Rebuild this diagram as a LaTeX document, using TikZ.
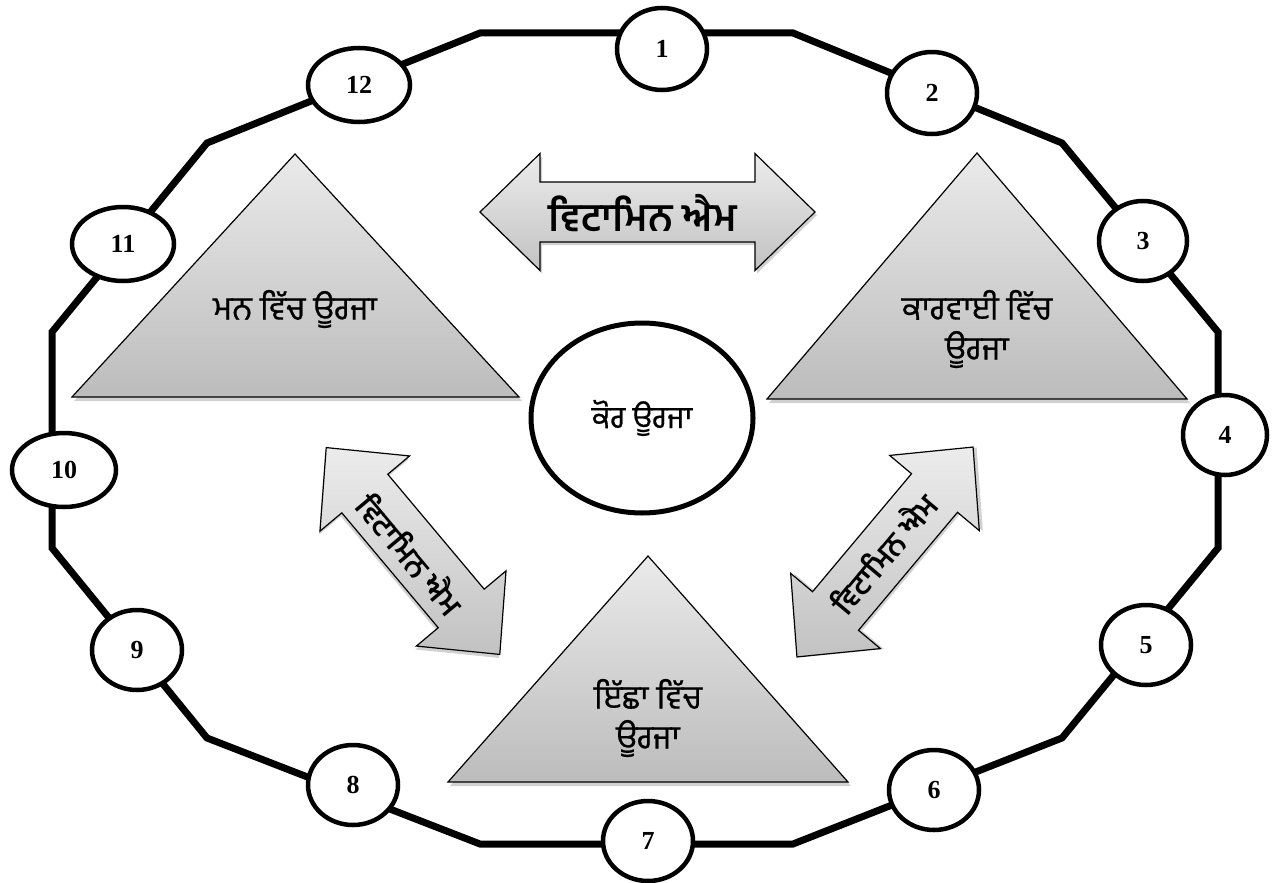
\documentclass[tikz,border=0pt]{standalone}
\usepackage{fontspec}
\usetikzlibrary{shapes.geometric}
\newfontfamily\pa[Script=Gurmukhi]{Hind Jalandhar}
\newfontfamily\pam[Script=Gurmukhi, FakeBold=0.6]{Hind Jalandhar}
\newfontfamily\numfont{Liberation Serif}
\definecolor{tritop}{RGB}{234,234,234}
\definecolor{tribot}{RGB}{188,188,188}
\definecolor{arrtop}{RGB}{236,236,236}
\definecolor{arrbot}{RGB}{194,194,194}
\begin{document}
\begin{tikzpicture}[x=1pt,y=-1pt,
  ring/.style={line width=7pt, line join=miter},
  num/.style={ellipse, draw=black, line width=4.5pt, fill=white, inner sep=0pt,
    font=\numfont\bfseries\fontsize{26}{26}\selectfont},
  tri/.style={top color=tritop, bottom color=tribot, draw=black, line width=1.2pt, line join=miter},
  trishadow/.style={fill=black, opacity=0.18},
  arr/.style={top color=arrtop, bottom color=arrbot, draw=black, line width=1.2pt, line join=miter},
  tritext/.style={font=\pam\fontsize{33}{40}\selectfont, align=center, inner sep=0pt},
  arrtext/.style={font=\pa\bfseries\fontsize{39}{39}\selectfont, inner sep=0pt},
  diagtext/.style={font=\pa\bfseries\fontsize{30}{30}\selectfont, inner sep=0pt},
  corebox/.style={ellipse, draw=black, line width=5pt, fill=white, inner sep=0pt,
    font=\pam\fontsize{31}{31}\selectfont}
]
\useasboundingbox (0,0) rectangle (1282,883);

% outer ring
\coordinate (p1) at (480,33);
\coordinate (p2) at (793,33);
\coordinate (p3) at (1062,143);
\coordinate (p4) at (1218,332);
\coordinate (p5) at (1218,548);
\coordinate (p6) at (1062,738);
\coordinate (p7) at (793,844);
\coordinate (p8) at (480,844);
\coordinate (p9) at (207,738);
\coordinate (p10) at (52,548);
\coordinate (p11) at (52,332);
\coordinate (p12) at (207,143);
\draw[ring] (p1) -- (p2) -- (p3) -- (p4) -- (p5) -- (p6) -- (p7) -- (p8) -- (p9) -- (p10) -- (p11) -- (p12) -- cycle;

% numbered ellipses
\node[num, minimum width=90pt, minimum height=82pt] (n1) at (662,49) {1};
\node[num, minimum width=90pt, minimum height=82pt] (n2) at (932,93) {2};
\node[num, minimum width=88pt, minimum height=80pt] (n3) at (1143,241) {3};
\node[num, minimum width=84pt, minimum height=80pt] (n4) at (1225,435) {4};
\node[num, minimum width=90pt, minimum height=80pt] (n5) at (1146,645) {5};
\node[num, minimum width=90pt, minimum height=80pt] (n6) at (934,790) {6};
\node[num, minimum width=90pt, minimum height=80pt] (n7) at (648,841) {7};
\node[num, minimum width=90pt, minimum height=80pt] (n8) at (353,785) {8};
\node[num, minimum width=90pt, minimum height=80pt] (n9) at (137,650) {9};
\node[num, minimum width=104pt, minimum height=74pt] (n10) at (64,470) {10};
\node[num, minimum width=102pt, minimum height=74pt] (n11) at (123,244) {11};
\node[num, minimum width=102pt, minimum height=74pt] (n12) at (359,85) {12};

% triangles
\fill[trishadow] (297,158) -- (522,401) -- (74,401) -- cycle;
\shade[tri] (295,154) -- (519,397) -- (72,397) -- cycle;
\fill[trishadow] (979,157) -- (1190,403) -- (769,403) -- cycle;
\shade[tri] (977,153) -- (1187,399) -- (767,399) -- cycle;
\fill[trishadow] (650,560) -- (851,786) -- (450,786) -- cycle;
\shade[tri] (648,556) -- (848,782) -- (448,782) -- cycle;

\node[tritext] (tmind) at (295,309) {ਮਨ ਵਿੱਚ ਊਰਜਾ};
\node[tritext] (taction) at (977,329) {ਕਾਰਵਾਈ ਵਿੱਚ\\ਊਰਜਾ};
\node[tritext] (twill) at (648,718) {ਇੱਛਾ ਵਿੱਚ\\ਊਰਜਾ};

% core
\node[corebox, minimum width=222pt, minimum height=190pt] (core) at (642,418) {ਕੋਰ ਊਰਜਾ};

% double arrows
\begin{scope}[shift={(647.5,212)}]
\fill[black, opacity=0.18, shift={(2,3)}] (-167.5,0) -- (-107.5,58.5) -- (-107.5,30) -- (107.5,30) -- (107.5,58.5) -- (167.5,0) -- (107.5,-58.5) -- (107.5,-30) -- (-107.5,-30) -- (-107.5,-58.5) -- cycle;
\shade[arr] (-167.5,0) -- (-107.5,58.5) -- (-107.5,30) -- (107.5,30) -- (107.5,58.5) -- (167.5,0) -- (107.5,-58.5) -- (107.5,-30) -- (-107.5,-30) -- (-107.5,-58.5) -- cycle;
\end{scope}
\node[arrtext] (vtop) at (643,213) {ਵਿਟਾਮਿਨ ਐਮ};

\begin{scope}[shift={(413,551)}, rotate=-50]
\fill[black, opacity=0.18, shift={(2,3)}] (-135,0) -- (-75,58.5) -- (-75,30) -- (75,30) -- (75,58.5) -- (135,0) -- (75,-58.5) -- (75,-30) -- (-75,-30) -- (-75,-58.5) -- cycle;
\shade[arr] (-135,0) -- (-75,58.5) -- (-75,30) -- (75,30) -- (75,58.5) -- (135,0) -- (75,-58.5) -- (75,-30) -- (-75,-30) -- (-75,-58.5) -- cycle;
\end{scope}
\node[diagtext, rotate=-50] (vleft) at (411,554) {ਵਿਟਾਮਿਨ ਐਮ};

\begin{scope}[shift={(885,552)}, rotate=50]
\fill[black, opacity=0.18, shift={(2,3)}] (-137,0) -- (-77,58.5) -- (-77,30) -- (77,30) -- (77,58.5) -- (137,0) -- (77,-58.5) -- (77,-30) -- (-77,-30) -- (-77,-58.5) -- cycle;
\shade[arr] (-137,0) -- (-77,58.5) -- (-77,30) -- (77,30) -- (77,58.5) -- (137,0) -- (77,-58.5) -- (77,-30) -- (-77,-30) -- (-77,-58.5) -- cycle;
\end{scope}
\node[diagtext, rotate=50] (vright) at (883,553) {ਵਿਟਾਮਿਨ ਐਮ};
\end{tikzpicture}
\end{document}
